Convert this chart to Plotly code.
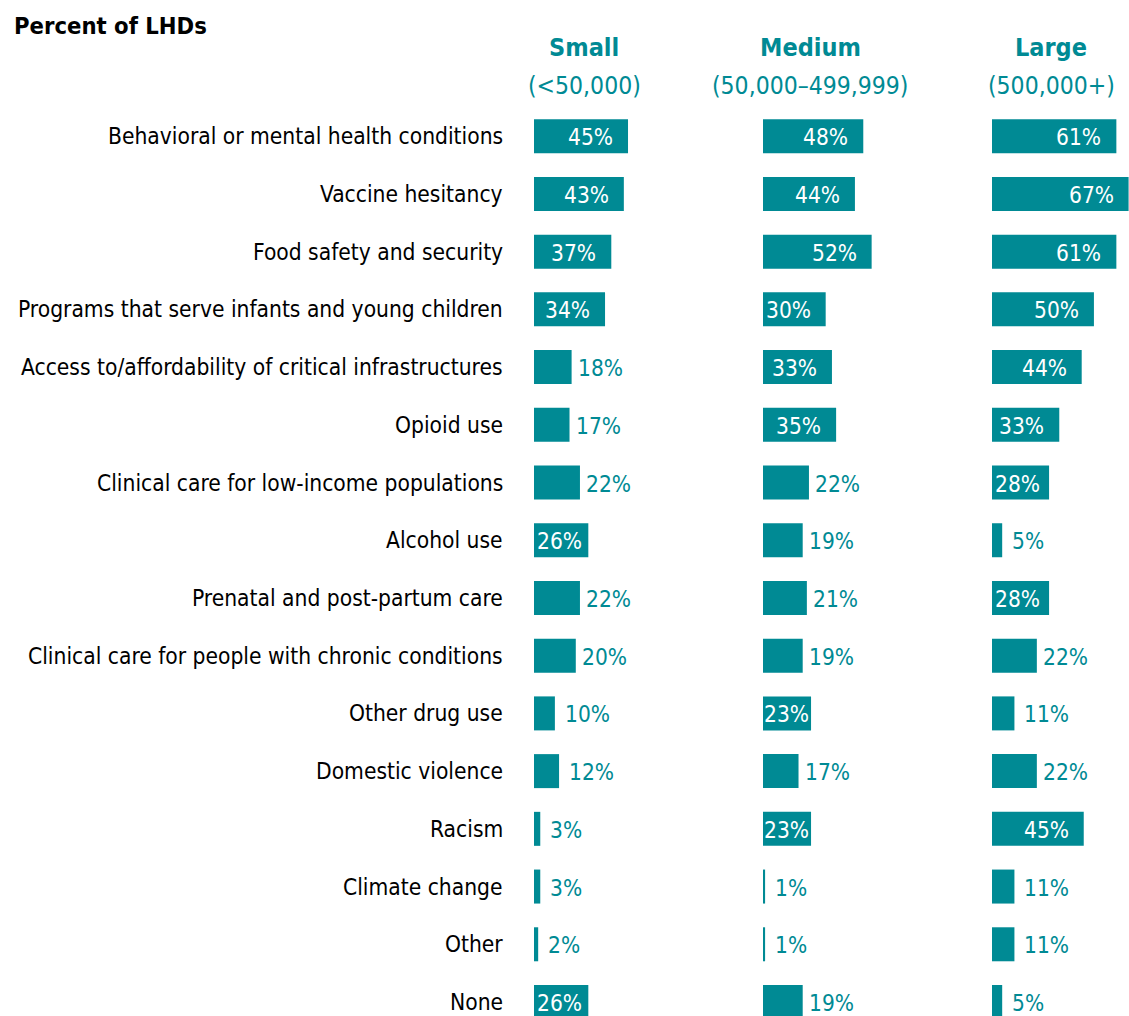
import plotly.graph_objects as go

# Community conditions addressed by LHDs, by jurisdiction population size
categories = [
    "Behavioral or mental health conditions",
    "Vaccine hesitancy",
    "Food safety and security",
    "Programs that serve infants and young children",
    "Access to/affordability of critical infrastructures",
    "Opioid use",
    "Clinical care for low-income populations",
    "Alcohol use",
    "Prenatal and post-partum care",
    "Clinical care for people with chronic conditions",
    "Other drug use",
    "Domestic violence",
    "Racism",
    "Climate change",
    "Other",
    "None",
]
small = [45, 43, 37, 34, 18, 17, 22, 26, 22, 20, 10, 12, 3, 3, 2, 26]
medium = [48, 44, 52, 30, 33, 35, 22, 19, 21, 19, 23, 17, 23, 1, 1, 19]
large = [61, 67, 61, 50, 44, 33, 28, 5, 28, 22, 11, 22, 45, 11, 11, 5]
group_names = ["Small", "Medium", "Large"]
group_sizes = ["(<50,000)", "(50,000\u2013499,999)", "(500,000+)"]
axis_title = "Percent of LHDs"

TEAL = "#008A94"
FONT = "DejaVu Sans Condensed, Liberation Sans Narrow, Arial Narrow, sans-serif"
W, H = 1129, 1016
ROW_TOP, ROW_STEP = 136.2, 57.72
BAR_PX = 34
TEXT_W = 44                # approx. width of a "NN%" label at the label size
LABEL_SIZE = 22.5

# panel pixel extents and their axis maxima (percent)
panels = [(534, 754, 105.3), (763, 983, 105.3), (992, W, 67.2)]
centers = [584, 810, 1051]
series = [small, medium, large]

fig = go.Figure()
rows = list(range(len(categories)))
y_range = [(H - ROW_TOP) / ROW_STEP, -ROW_TOP / ROW_STEP]

annotations = []
for k, (vals, (x0, x1, xmax)) in enumerate(zip(series, panels)):
    xa = "x" if k == 0 else f"x{k + 1}"
    ya = "y" if k == 0 else f"y{k + 1}"
    px = (x1 - x0) / xmax
    fig.add_trace(go.Bar(
        x=vals, y=rows, orientation="h",
        xaxis=xa, yaxis=ya,
        width=BAR_PX / ROW_STEP,
        marker=dict(color=TEAL, line=dict(width=0)),
        hoverinfo="skip", showlegend=False,
    ))
    ax_key = "xaxis" if k == 0 else f"xaxis{k + 1}"
    ay_key = "yaxis" if k == 0 else f"yaxis{k + 1}"
    fig.update_layout({
        ax_key: dict(domain=[x0 / W, x1 / W], range=[0, xmax],
                     visible=False, fixedrange=True, anchor=ya),
        ay_key: dict(domain=[0, 1], range=y_range, visible=False,
                     fixedrange=True, anchor=xa),
    })
    for i, v in enumerate(vals):
        if v >= 23:
            pad = max(0, min(13, v * px - TEXT_W - 6))
            annotations.append(dict(
                x=v, y=i, xref=xa, yref=ya, text=f"{v}%", showarrow=False,
                xanchor="right", yanchor="middle", xshift=-pad, yshift=-1,
                font=dict(family=FONT, size=LABEL_SIZE, color="white")))
        else:
            gap = 8 if v < 15 else 4
            annotations.append(dict(
                x=v, y=i, xref=xa, yref=ya, text=f"{v}%", showarrow=False,
                xanchor="left", yanchor="middle", xshift=gap, yshift=-1,
                font=dict(family=FONT, size=LABEL_SIZE, color=TEAL)))
    cx = centers[k] / W
    annotations.append(dict(
        x=cx, y=1 - 47 / H, xref="paper", yref="paper", text=f"<b>{group_names[k]}</b>",
        showarrow=False, xanchor="center", yanchor="middle",
        font=dict(family=FONT, size=25, color=TEAL)))
    annotations.append(dict(
        x=cx, y=1 - 86 / H, xref="paper", yref="paper", text=group_sizes[k],
        showarrow=False, xanchor="center", yanchor="middle",
        font=dict(family=FONT, size=24.5, color=TEAL)))

# category labels, right-aligned against the first panel
for i, c in enumerate(categories):
    annotations.append(dict(
        x=505 / W, y=i, xref="paper", yref="y", text=c, showarrow=False,
        xanchor="right", yanchor="middle",
        font=dict(family=FONT, size=22.6, color="black")))

annotations.append(dict(
    x=12 / W, y=1 - 26 / H, xref="paper", yref="paper", text=f"<b>{axis_title}</b>",
    showarrow=False, xanchor="left", yanchor="middle",
    font=dict(family=FONT, size=23.6, color="black")))

fig.update_layout(
    width=W, height=H,
    margin=dict(l=0, r=0, t=0, b=0),
    paper_bgcolor="white", plot_bgcolor="white",
    barmode="overlay",
    annotations=annotations,
)

fig.write_html("out.html", config={"displayModeBar": False})
